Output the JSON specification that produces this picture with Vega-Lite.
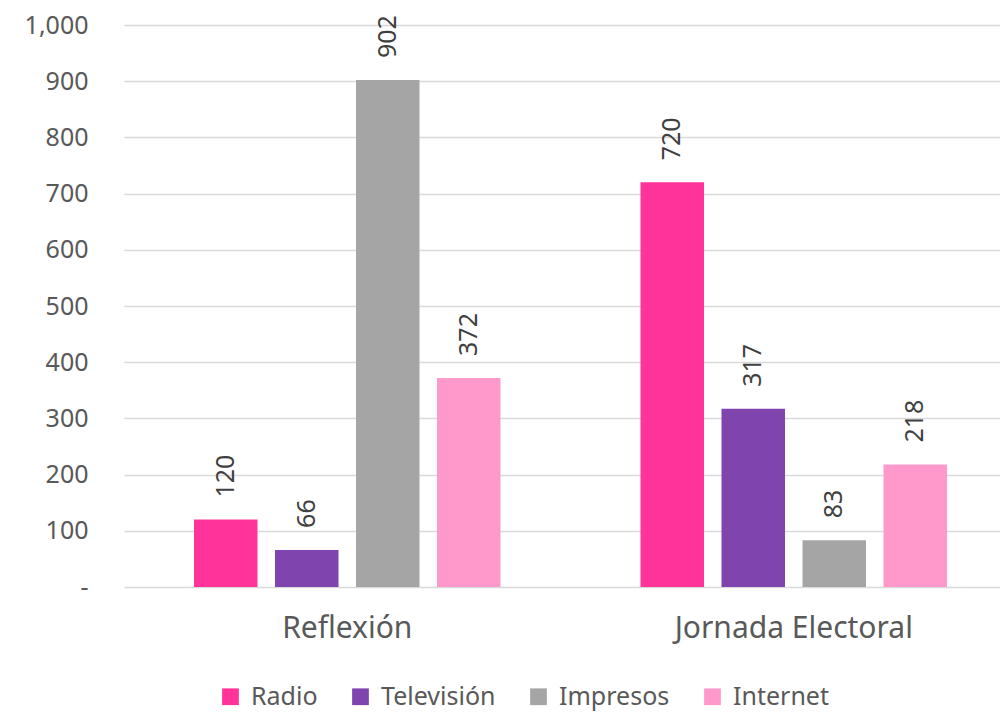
{
  "$schema": "https://vega.github.io/schema/vega-lite/v6.json",
  "autosize": {"type": "none"},
  "padding": {"left": 124, "top": 25, "right": 0, "bottom": 126},
  "width": 893,
  "height": 562,
  "background": "white",
  "config": {
    "font": "Noto Sans",
    "view": {"stroke": null}
  },
  "data": {
    "values": [
      {"periodo": "Reflexión", "medio": "Radio", "valor": 120},
      {"periodo": "Reflexión", "medio": "Televisión", "valor": 66},
      {"periodo": "Reflexión", "medio": "Impresos", "valor": 902},
      {"periodo": "Reflexión", "medio": "Internet", "valor": 372},
      {"periodo": "Jornada Electoral", "medio": "Radio", "valor": 720},
      {"periodo": "Jornada Electoral", "medio": "Televisión", "valor": 317},
      {"periodo": "Jornada Electoral", "medio": "Impresos", "valor": 83},
      {"periodo": "Jornada Electoral", "medio": "Internet", "valor": 218}
    ]
  },
  "encoding": {
    "x": {
      "field": "periodo", "type": "nominal",
      "sort": ["Reflexión", "Jornada Electoral"],
      "scale": {"paddingInner": 0, "paddingOuter": 0},
      "axis": {
        "title": null, "labelAngle": 0, "domain": false, "ticks": false,
        "labelFontSize": 30, "labelColor": "#595959", "labelPadding": 26,
        "labelFont": "Noto Sans", "labelLimit": 600
      }
    },
    "xOffset": {
      "field": "medio", "type": "nominal",
      "sort": ["Radio", "Televisión", "Impresos", "Internet"],
      "scale": {"paddingInner": 0.216, "paddingOuter": 0.864}
    },
    "y": {
      "field": "valor", "type": "quantitative",
      "scale": {"domain": [0, 1000], "nice": false},
      "axis": {
        "title": null, "values": [0, 100, 200, 300, 400, 500, 600, 700, 800, 900, 1000],
        "labelExpr": "datum.value == 0 ? '-' : format(datum.value, ',')",
        "domain": false, "ticks": false, "labelPadding": 36,
        "labelFontSize": 25, "labelColor": "#595959",
        "gridColor": "#D9D9D9", "gridWidth": 1.5
      }
    }
  },
  "layer": [
    {
      "mark": {"type": "bar"},
      "encoding": {
        "color": {
          "field": "medio", "type": "nominal",
          "sort": ["Radio", "Televisión", "Impresos", "Internet"],
          "scale": {
            "domain": ["Radio", "Televisión", "Impresos", "Internet"],
            "range": ["#FF3399", "#8044AE", "#A5A5A5", "#FF99CC"]
          },
          "legend": {
            "title": null, "orient": "none", "direction": "horizontal",
            "legendX": 94, "legendY": 659,
            "symbolType": "square", "symbolSize": 280, "symbolStrokeWidth": 0,
            "labelFontSize": 25, "labelColor": "#595959", "labelOffset": 8,
            "columnPadding": 30, "labelLimit": 300
          }
        }
      }
    },
    {
      "mark": {
        "type": "text", "angle": 270, "align": "left", "baseline": "middle",
        "dx": 22, "fontSize": 25, "color": "#404040"
      },
      "encoding": {
        "text": {"field": "valor", "type": "quantitative", "format": ","}
      }
    }
  ]
}
